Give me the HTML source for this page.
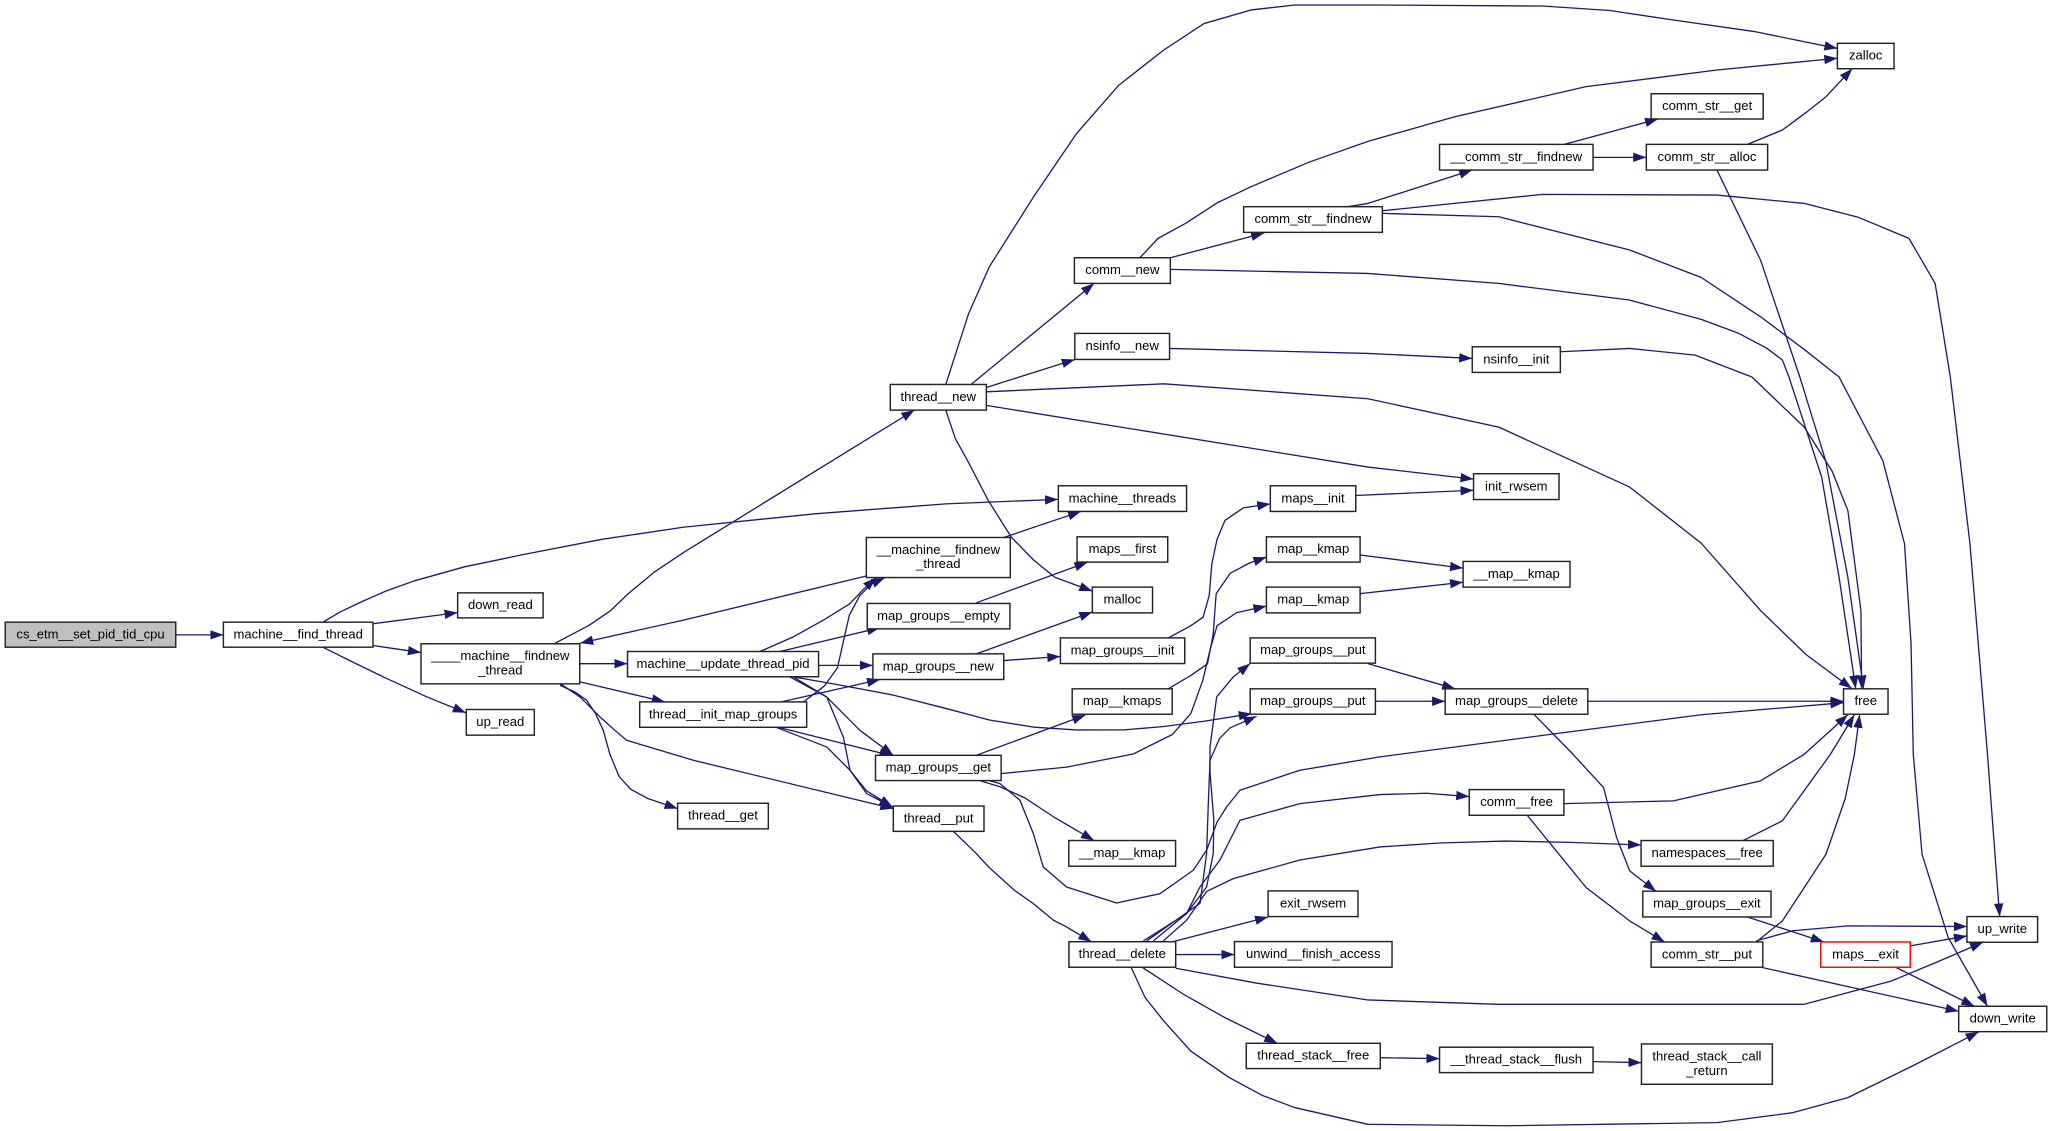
<!DOCTYPE html>
<html><head><meta charset="utf-8"><style>html,body{margin:0;padding:0;background:#fff;overflow:hidden}svg{display:block}</style></head><body>
<svg xmlns="http://www.w3.org/2000/svg" width="2052" height="1131" viewBox="0 0 1568 864" preserveAspectRatio="none">
<defs><marker id="a" markerUnits="userSpaceOnUse" markerWidth="11" markerHeight="8" refX="10" refY="3.6" orient="auto"><path d="M0,0 L10,3.6 L0,7.2 z" fill="#191970"/></marker></defs>
<rect width="1568" height="864" fill="#fff"/>
<g fill="none" stroke="#191970" stroke-width="1" stroke-linejoin="round" marker-end="url(#a)">
<path d="M134.3,485 L170.7,485"/>
<path d="M285,476.5 L349.7,468"/>
<path d="M285,493.1 L321.7,498.5"/>
<path d="M246.7,494.4 L270,506 L293.3,517.3 L326.7,532.6 L356,544.5"/>
<path d="M246.7,475.3 L260,467.5 L276.7,459.5 L295,451.5 L316.7,443.7 L355,433 L400,423.6 L460,412 L522.7,402.7 L622.7,392.5 L722.7,384.9 L808.5,381.5"/>
<path d="M423.3,491.8 L450,477.8 L466.7,466.4 L480,453.6 L500,437 L522.7,421.8 L698.7,313.3"/>
<path d="M662,440 L522.7,473.6 L443.3,491.3"/>
<path d="M443.2,507 L479.5,507"/>
<path d="M443.2,520.9 L508.1,536.2"/>
<path d="M427.9,523.5 L440,529 L448.3,535 L455,545 L461,558 L466,576 L473,593 L482,603 L495,610 L517.8,617.7"/>
<path d="M427.9,522.2 L443.2,532.4 L458.5,547.7 L470,558 L478.8,565.5 L529.8,580.8 L682.6,617.7"/>
<path d="M580.7,497.7 L606.2,486.5 L629.1,473.8 L649.3,461.3 L660,450 L669.3,441.5"/>
<path d="M614,536.2 L630,524 L640,510 L644,492 L649,470 L657,455 L666,446 L676,441.5"/>
<path d="M596,497.7 L672.5,479.5"/>
<path d="M625.5,508.3 L667,508.3"/>
<path d="M597,536.2 L672.5,519.1"/>
<path d="M606.2,517.1 L640,523 L682.6,531 L722,541 L756,550 L790,555.5 L822.7,557.6 L860,557.5 L889.3,555 L920,551 L956.5,545.2"/>
<path d="M603.6,517.1 L631.7,532.4 L657.1,557.9 L682.6,577"/>
<path d="M606.2,517.1 L631.7,532.4 L644.4,563 L649.5,588.4 L662.2,606.2 L682,616.5"/>
<path d="M593.5,555.3 L682,577.5"/>
<path d="M593.5,555.8 L631.7,570.6 L649.5,588.4 L662,604 L682,616.5"/>
<path d="M746,460.5 L831,429.5"/>
<path d="M767,410.6 L826,390.7"/>
<path d="M722.7,313.3 L730,335 L739.3,351.8 L755,382 L772.7,410.3 L790,428 L806,441 L834.7,451.6"/>
<path d="M746,499.5 L834.7,467.5"/>
<path d="M767,504.6 L810.3,501.5"/>
<path d="M892.7,487.3 L910,478 L919.3,471.5 L924,455 L926,430.7 L930,412 L936,397.6 L950,388 L970.7,384.9"/>
<path d="M892.7,526.2 L910,516 L922.7,507.1 L927,485 L929.3,453.6 L940,438 L955,430 L967.7,425.6"/>
<path d="M765,591 L815,586 L866,576 L896,561 L910,545 L919,520 L925,495 L930,478 L945,468 L967.7,463"/>
<path d="M746,577 L829.3,546.3"/>
<path d="M749.3,596.5 L764.1,601 L782.7,609.3 L806,624.6 L836,642.1"/>
<path d="M756,596.3 L764.1,598.6 L779.4,611.3 L789.6,636.8 L797.2,662.3 L815,677.6 L853.2,689.8 L886.4,682.7 L911.8,664.8 L922,649.5 L930,628 L937.3,616.4 L947.5,603.7 L993.3,588.4 L1054.5,578.2 L1200,559 L1300,546 L1408.7,536.8"/>
<path d="M728.7,635.3 L745,651 L756,662.8 L775,680 L789.6,690.3 L805,703 L815,708.1 L834,719.4"/>
<path d="M896,719.4 L969,700.5"/>
<path d="M898.4,729.2 L943.3,729.2"/>
<path d="M872.7,738.9 L905,760 L936,777.4 L976,797"/>
<path d="M864.3,738.9 L875,762 L889.3,780 L910,803 L939.3,823.2 L965,837 L989.3,846.1 L1045.3,858.9 L1150,860 L1312,857.6 L1370,850 L1412,838.5 L1460,815 L1512,788.3"/>
<path d="M898.4,739.7 L960,751 L1045.3,763.9 L1145.3,767.2 L1378.7,767.2 L1445.3,749.4 L1480,735 L1515.3,719.8"/>
<path d="M873.6,718.8 L906.7,697.9 L922,677.6 L927.1,652 L927.5,626 L924.6,590 L924.6,570.6 L929.7,532.4 L942.4,517.1 L955.3,506.9"/>
<path d="M876.2,718.8 L917,690 L922,652 L923.3,614 L924.6,580.8 L932,564 L940,556 L960.2,547.2"/>
<path d="M881.3,718.8 L906.7,697.9 L916.9,677.6 L932.2,657 L947.5,626.6 L993.3,613.9 L1054.5,607 L1090,606 L1122.7,608.5"/>
<path d="M888.9,718.8 L906.7,703 L922,681 L942.4,671.2 L993.3,657 L1054.5,647 L1100,644 L1150,642.5 L1200,643.5 L1254,645.5"/>
<path d="M722.7,293.7 L740,240 L756,203.8 L790,150 L822.7,101.9 L855,65 L889.3,38.2 L920,18 L956,7.6 L989.3,3.8 L1045.3,3.8 L1178.7,4.6 L1230,8 L1278.7,15.3 L1340,24 L1404,37"/>
<path d="M871,196.9 L885,182 L906,170.6 L930,155 L956,142.6 L1000,124 L1045.3,108 L1112,89.1 L1212,66.2 L1312,53.5 L1404,44.5"/>
<path d="M894.3,196.9 L966,178"/>
<path d="M894.3,205.8 L1045,208.9 L1145,216.5 L1245,229.2 L1300,244 L1328.7,254.7 L1350,266 L1362,275 L1367,288 L1392,364.5 L1405.3,441 L1418,526"/>
<path d="M1030,157.9 L1045.3,155.4 L1125,129.9"/>
<path d="M1056.3,161 L1178.7,148.5 L1312,149 L1378.7,155.4 L1420,166 L1458.7,182.1 L1478.7,216.5 L1490.3,288 L1505.3,415.4 L1518.7,576.2 L1528,700.2"/>
<path d="M1056.3,163 L1145.3,165.6 L1245.3,191 L1300,212 L1345.3,242 L1380,268 L1405.3,288 L1438.7,351.8 L1455.3,415.4 L1460.3,491.8 L1462,576.2 L1468.7,652.6 L1488.7,716.2 L1518.7,768.7"/>
<path d="M1195.3,110.3 L1267,90.9"/>
<path d="M1217.3,120.2 L1258,120.2"/>
<path d="M1335.3,110.3 L1362,99.3 L1380,86 L1395.3,73.9 L1415.3,52.5"/>
<path d="M1312,129.9 L1345.3,198.7 L1375.3,288 L1395,351.8 L1412,441 L1424,526"/>
<path d="M893.7,266.2 L1045.3,270 L1125,273.8"/>
<path d="M1192.3,268.7 L1245.3,266.2 L1295.3,271.3 L1338.7,288 L1378.7,326.3 L1400,360 L1412,390 L1422,466.4 L1422.5,526"/>
<path d="M753.7,299.3 L889.3,293.2 L1045.3,304.6 L1145.3,326.3 L1245.3,372.1 L1300,415 L1345.3,466.4 L1380,500 L1415,526"/>
<path d="M753.7,309.7 L1045.3,356.8 L1126,366"/>
<path d="M1036,378.5 L1126,374.5"/>
<path d="M1039.3,424 L1118,434"/>
<path d="M1039.3,453.5 L1118,444.8"/>
<path d="M1045.3,507 L1112,526.2"/>
<path d="M1051,535.7 L1104.3,535.7"/>
<path d="M1213.3,535.7 L1408.7,535.7"/>
<path d="M1172,545.6 L1202,576.2 L1225.3,601.6 L1235.3,639.8 L1245.3,665.3 L1265.3,680.8"/>
<path d="M1195,613.9 L1278.7,611.8 L1345.3,596.5 L1378.7,576.2 L1412,546"/>
<path d="M1167,622.8 L1190,651 L1212,678 L1245.3,703.5 L1272,719.6"/>
<path d="M1332,642.1 L1362,627 L1398.7,576.2 L1417,546"/>
<path d="M1342,719.6 L1362,703.5 L1395.3,652.6 L1410,610 L1417,576.2 L1421,546"/>
<path d="M1342,718.8 L1370,711 L1412,707.3 L1503,707.8"/>
<path d="M1347,739.2 L1496.7,772.5"/>
<path d="M1335.3,700.5 L1393.7,719.6"/>
<path d="M1459.7,722.6 L1503,715"/>
<path d="M1448.7,739 L1508.7,768.7"/>
<path d="M1217.3,811 L1254.3,811.8"/>
<path d="M1054.7,808 L1100,808.7"/>
<path d="M742,293.7 L836,216.5"/>
<path d="M753.7,296 L821.3,274.6"/>
</g>
<g stroke="#222" stroke-width="1.1" fill="#fff">
<rect x="4" y="475.3" width="130.3" height="19.1" fill="#bfbfbf"/>
<rect x="170.7" y="475.3" width="114.3" height="19.1"/>
<rect x="349.7" y="452.9" width="65.3" height="19.1"/>
<rect x="321.7" y="491.8" width="121.3" height="30.6"/>
<rect x="356.3" y="542" width="52" height="19.6"/>
<rect x="680.3" y="293.7" width="73.4" height="19.6"/>
<rect x="808.7" y="371.1" width="98" height="19.6"/>
<rect x="662" y="410.6" width="110" height="30.6"/>
<rect x="823" y="410.1" width="69.3" height="19.3"/>
<rect x="834.7" y="448.5" width="46" height="19.7"/>
<rect x="662.7" y="461" width="109" height="19.4"/>
<rect x="479.5" y="497.7" width="146" height="19.3"/>
<rect x="667" y="499.5" width="100" height="19.6"/>
<rect x="810.3" y="487.3" width="95" height="19.6"/>
<rect x="819.3" y="526.2" width="76.4" height="19.4"/>
<rect x="970.7" y="371.1" width="65.3" height="19.6"/>
<rect x="967.7" y="410.1" width="71.6" height="19.3"/>
<rect x="967.7" y="448.5" width="71.6" height="19.7"/>
<rect x="955.3" y="487.3" width="95.7" height="19.3"/>
<rect x="955.3" y="526.2" width="95.7" height="19.4"/>
<rect x="488.8" y="536.2" width="127.6" height="19.4"/>
<rect x="1126" y="361.9" width="65.3" height="19.7"/>
<rect x="1118" y="428.9" width="81.7" height="19.6"/>
<rect x="1104.3" y="526.2" width="109" height="19.4"/>
<rect x="1408.7" y="526.2" width="34" height="19.4"/>
<rect x="821" y="196.9" width="73.3" height="19.6"/>
<rect x="821.3" y="254.7" width="72.4" height="19.9"/>
<rect x="950.3" y="157.9" width="106" height="19.6"/>
<rect x="1404" y="33.1" width="43.3" height="19.4"/>
<rect x="1261.7" y="71.6" width="85.6" height="19.3"/>
<rect x="1100" y="110.3" width="117.3" height="19.6"/>
<rect x="1258" y="110.3" width="92.7" height="19.6"/>
<rect x="1125" y="264.9" width="67.3" height="19.6"/>
<rect x="669" y="577" width="96" height="19.3"/>
<rect x="517.8" y="613.6" width="69.3" height="19.6"/>
<rect x="682.6" y="615.7" width="69.3" height="19.4"/>
<rect x="816.7" y="642.1" width="81.6" height="19.6"/>
<rect x="816.8" y="719.4" width="81.6" height="19.5"/>
<rect x="969" y="680.6" width="68.7" height="19.6"/>
<rect x="943.3" y="719.3" width="120.4" height="19.6"/>
<rect x="952.3" y="797" width="102.4" height="19.3"/>
<rect x="1122.7" y="603.2" width="72.3" height="19.6"/>
<rect x="1254" y="642.1" width="101" height="19.6"/>
<rect x="1255.3" y="680.8" width="98" height="19.7"/>
<rect x="1261.7" y="719.6" width="85.3" height="19.3"/>
<rect x="1391.3" y="719.6" width="68.4" height="19.3" stroke="#ff0000"/>
<rect x="1503" y="700.2" width="54" height="19.6"/>
<rect x="1496.7" y="768.7" width="67.3" height="19.4"/>
<rect x="1100" y="800" width="117.3" height="19.4"/>
<rect x="1254.3" y="797.5" width="100" height="30.8"/>
</g>
<g font-family="'Liberation Sans', Arial, Helvetica, sans-serif" font-size="10" fill="#000" text-anchor="middle">
<text x="69.2" y="487.65">cs_etm__set_pid_tid_cpu</text>
<text x="227.85" y="487.65">machine__find_thread</text>
<text x="382.35" y="465.25">down_read</text>
<text x="382.35" y="504.3">____machine__findnew</text>
<text x="382.35" y="515.3">_thread</text>
<text x="382.3" y="554.6">up_read</text>
<text x="717" y="306.3">thread__new</text>
<text x="857.7" y="383.7">machine__threads</text>
<text x="717" y="423.1">__machine__findnew</text>
<text x="717" y="434.1">_thread</text>
<text x="857.65" y="422.55">maps__first</text>
<text x="857.7" y="461.15">malloc</text>
<text x="717.2" y="473.5">map_groups__empty</text>
<text x="552.5" y="510.15">machine__update_thread_pid</text>
<text x="717" y="512.1">map_groups__new</text>
<text x="857.8" y="499.9">map_groups__init</text>
<text x="857.5" y="538.7">map__kmaps</text>
<text x="1003.35" y="383.7">maps__init</text>
<text x="1003.5" y="422.55">map__kmap</text>
<text x="1003.5" y="461.15">map__kmap</text>
<text x="1003.15" y="499.75">map_groups__put</text>
<text x="1003.15" y="538.7">map_groups__put</text>
<text x="552.6" y="548.7">thread__init_map_groups</text>
<text x="1158.65" y="374.55">init_rwsem</text>
<text x="1158.85" y="441.5">__map__kmap</text>
<text x="1158.8" y="538.7">map_groups__delete</text>
<text x="1425.7" y="538.7">free</text>
<text x="857.65" y="209.5">comm__new</text>
<text x="857.5" y="267.45">nsinfo__new</text>
<text x="1003.3" y="170.5">comm_str__findnew</text>
<text x="1425.65" y="45.6">zalloc</text>
<text x="1304.5" y="84.05">comm_str__get</text>
<text x="1158.65" y="122.9">__comm_str__findnew</text>
<text x="1304.35" y="122.9">comm_str__alloc</text>
<text x="1158.65" y="277.5">nsinfo__init</text>
<text x="717" y="589.45">map_groups__get</text>
<text x="552.45" y="626.2">thread__get</text>
<text x="717.25" y="628.2">thread__put</text>
<text x="857.5" y="654.7">__map__kmap</text>
<text x="857.6" y="731.95">thread__delete</text>
<text x="1003.35" y="693.2">exit_rwsem</text>
<text x="1003.5" y="731.9">unwind__finish_access</text>
<text x="1003.5" y="809.45">thread_stack__free</text>
<text x="1158.85" y="615.8">comm__free</text>
<text x="1304.5" y="654.7">namespaces__free</text>
<text x="1304.3" y="693.45">map_groups__exit</text>
<text x="1304.35" y="732.05">comm_str__put</text>
<text x="1425.5" y="732.05">maps__exit</text>
<text x="1530" y="712.8">up_write</text>
<text x="1530.35" y="781.2">down_write</text>
<text x="1158.65" y="812.5">__thread_stack__flush</text>
<text x="1304.3" y="810">thread_stack__call</text>
<text x="1304.3" y="821.2">_return</text>
</g>
</svg>
</body></html>
